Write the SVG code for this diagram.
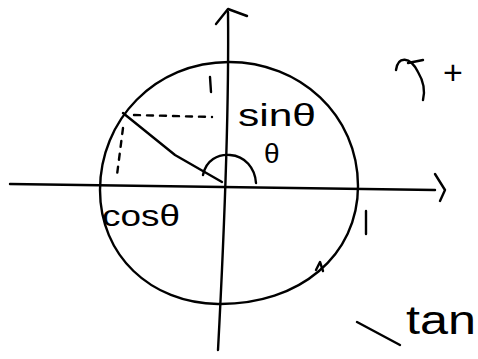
<svg xmlns="http://www.w3.org/2000/svg" width="478" height="359" viewBox="0 0 478 359">
<style>
.s{fill:none;stroke:#000;stroke-width:2.4;stroke-linecap:round;stroke-linejoin:round}
.d{fill:none;stroke:#000;stroke-width:2.4;stroke-dasharray:6 7;stroke-linecap:round}
.t{font-family:"Liberation Sans",sans-serif;fill:#000}
</style>
<rect width="478" height="359" fill="#fff"/>
<g id="axes">
<path class="s" d="M228,12 C229,100 226,200 218,350"/>
<path class="s" d="M216,24 L228,9 L247,16"/>
<path class="s" d="M10,184 L435,190"/>
<path class="s" d="M435,174 L445,190 L440,201"/>
</g>
<g id="circle">
<path class="s" d="M229,62 C300,62 358,115 358,186 C358,255 300,305 218,304 C150,303 100,255 100,190 C100,120 155,62 229,62 Z"/>
<path class="s" d="M316,270 L320,262 L323,271"/>
</g>
<g id="triangle">
<path class="s" d="M123,113 L175,155 L222,182"/>
<path class="d" d="M134,115 L212,117"/>
<path class="d" d="M123,128 L117,175"/>
<path class="s" d="M203,175 C206,160 218,154 230,155 C245,156 255,168 256,183" stroke-width="3"/>
</g>
<g id="labels">
<path class="s" d="M210,77 L211,92" stroke-width="3"/>
<text class="t" x="238" y="126" font-size="31" textLength="78" lengthAdjust="spacingAndGlyphs">sinθ</text>
<text class="t" x="264" y="163" font-size="28">θ</text>
<text class="t" x="102" y="226" font-size="30" textLength="78" lengthAdjust="spacingAndGlyphs">cosθ</text>
<path class="s" d="M366,211 L366,234" stroke-width="3"/>
<path class="s" d="M396,70 C398,56 410,56 418,72 C424,82 425,92 423,100" stroke-width="4.5"/>
<path class="s" d="M408,63 L423,60" stroke-width="2.5"/>
<text class="t" x="443" y="84" font-size="34">+</text>
<text class="t" x="406" y="334" font-size="40" textLength="70" lengthAdjust="spacingAndGlyphs">tan</text>
<path class="s" d="M357,322 L400,345" stroke-width="3"/>
</g>
</svg>
